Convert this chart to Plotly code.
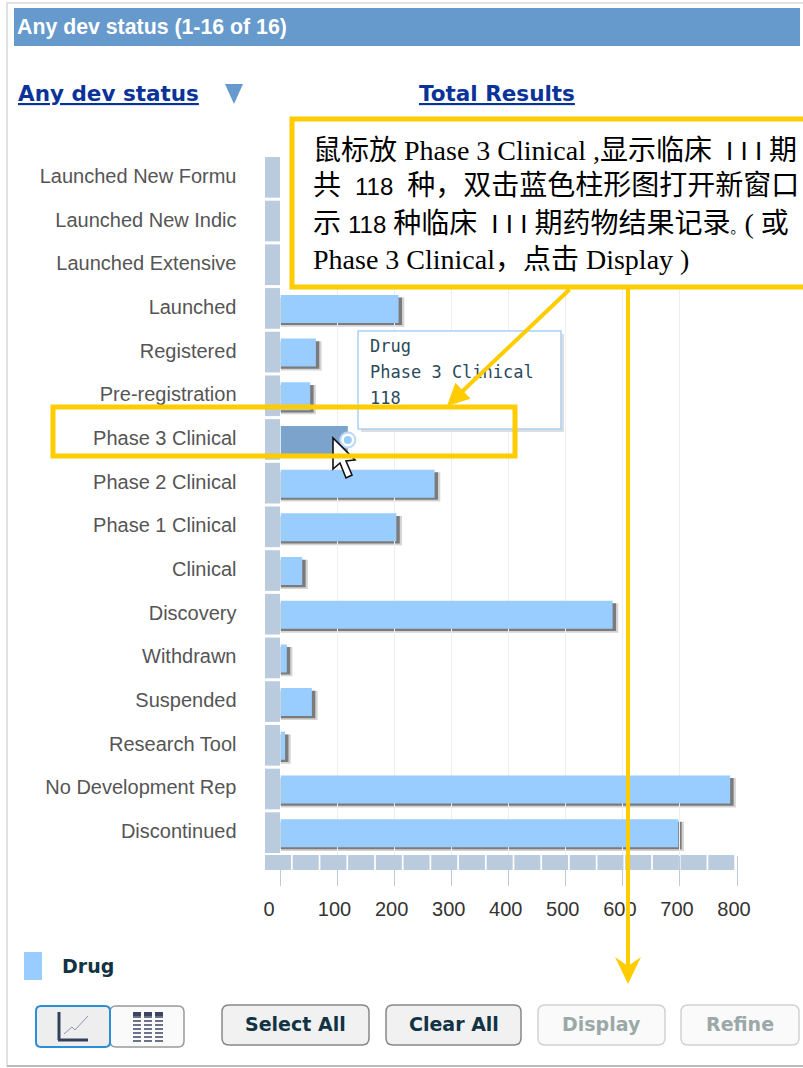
import plotly.graph_objects as go

W, H = 803, 1068
categories = ["Launched New Formu", "Launched New Indic", "Launched Extensive", "Launched", "Registered",
              "Pre-registration", "Phase 3 Clinical", "Phase 2 Clinical", "Phase 1 Clinical", "Clinical",
              "Discovery", "Withdrawn", "Suspended", "Research Tool", "No Development Rep", "Discontinued"]
drug_values = [0, 0, 0, 207, 62, 52, 118, 270, 203, 38, 582, 11, 55, 8, 788, 697]
tick_values = [0, 100, 200, 300, 400, 500, 600, 700, 800]
tick_labels = ["0\u00a0\u00a0\u00a0", "100", "200", "300", "400", "500", "600", "700", "800"]
highlight = "Phase 3 Clinical"
ROMAN = '<span style="font-family:Liberation Sans;font-size:26px">I I I</span>'
N118 = '<span style="font-family:Liberation Sans;font-size:24px">118</span>'
STOP = '<span style="font-size:14px">。</span>'
NB = "\u00a0"
callout_lines = ["鼠标放 Phase 3 Clinical ,显示临床" + NB * 2 + ROMAN + NB + "期",
                 "共" + NB * 2 + N118 + NB * 2 + "种，双击蓝色柱形图打开新窗口",
                 "示" + NB + N118 + NB + "种临床" + NB * 2 + ROMAN + NB + "期药物结果记录" + STOP + "(" + NB + "或",
                 "Phase 3 Clinical，点击 Display )"]
tooltip_lines = ["Drug", "Phase 3 Clinical", "118"]
buttons = [("Select All", 222, 369, True), ("Clear All", 386, 521, True),
           ("Display", 538, 665, False), ("Refine", 681, 799, False)]

PLOT_L, PLOT_R, PLOT_T, PLOT_B = 280.5, 737, 156, 855
BAR = "#99ccff"; HI = "#7ba3cc"; BLOCK = "#b9cbdd"; YEL = "#ffcc00"; HEAD = "#6699cc"


def px(x): return x / W
def py(y): return 1 - y / H


def rect(x0, y0, x1, y1, fill=None, line=None, lw=1, layer="above"):
    return dict(type="rect", xref="paper", yref="paper", x0=px(x0), x1=px(x1), y0=py(y0), y1=py(y1),
                fillcolor=fill or "rgba(0,0,0,0)", line=dict(color=line or "rgba(0,0,0,0)", width=lw if line else 0),
                layer=layer)


def seg(x0, y0, x1, y1, color, lw=1, dash=None, layer="above"):
    return dict(type="line", xref="paper", yref="paper", x0=px(x0), x1=px(x1), y0=py(y0), y1=py(y1),
                line=dict(color=color, width=lw, dash=dash or "solid"), layer=layer)


def poly(pts, fill=None, line=None, lw=1, close=True):
    d = "M " + " L ".join(f"{px(x):.5f},{py(y):.5f}" for x, y in pts) + (" Z" if close else "")
    return dict(type="path", xref="paper", yref="paper", path=d, fillcolor=fill or "rgba(0,0,0,0)",
                line=dict(color=line or "rgba(0,0,0,0)", width=lw if line else 0), layer="above")


def rrect(x0, y0, x1, y1, fill, line, lw=1.5, r=6):
    f = lambda x, y: f"{px(x):.5f},{py(y):.5f}"
    d = (f"M {f(x0+r,y0)} L {f(x1-r,y0)} Q {f(x1,y0)} {f(x1,y0+r)} L {f(x1,y1-r)} Q {f(x1,y1)} {f(x1-r,y1)} "
         f"L {f(x0+r,y1)} Q {f(x0,y1)} {f(x0,y1-r)} L {f(x0,y0+r)} Q {f(x0,y0)} {f(x0+r,y0)} Z")
    return dict(type="path", xref="paper", yref="paper", path=d, fillcolor=fill,
                line=dict(color=line, width=lw), layer="above")


def text(x, y, s, size, color, family, anchor="left", **fontkw):
    xx = x - 2 if anchor == "left" else x
    return dict(xref="paper", yref="paper", x=px(xx), y=py(y), text=s, showarrow=False, xanchor=anchor,
                yanchor="middle", align="left", font=dict(size=size, color=color, family=family, **fontkw))


fig = go.Figure()
fig.add_trace(go.Bar(y=categories, x=drug_values, orientation="h", width=0.64,
                     marker=dict(color=[HI if c == highlight else BAR for c in categories], line_width=0),
                     name="Drug", showlegend=False))
hi_val = drug_values[categories.index(highlight)]
fig.add_trace(go.Scatter(y=[highlight], x=[hi_val], mode="markers", showlegend=False,
                         marker=dict(size=15, color="#ffffff", line=dict(color="#bcd9f5", width=2))))
fig.add_trace(go.Scatter(y=[highlight], x=[hi_val], mode="markers", showlegend=False,
                         marker=dict(size=8, color=BAR, line_width=0)))

shapes = []
shapes.append(rect(7, 3, 830, 1066, "#ffffff", "#d8d8d8", 1.5, "below"))
shapes.append(seg(7, 1066, 803, 1066, "#bbbbbb", 2, layer="below"))
shapes.append(rect(14, 8, 800, 46, HEAD, None, layer="below"))
for i, v in enumerate(drug_values):
    if v > 0 and categories[i] != highlight:
        shapes.append(dict(type="rect", xref="x", yref="y", x0=0, x1=v + 10, y0=i - 0.26, y1=i + 0.41,
                           fillcolor="rgba(60,60,60,0.22)", line_width=0, layer="below"))
        shapes.append(dict(type="rect", xref="x", yref="y", x0=0, x1=v + 6, y0=i - 0.26, y1=i + 0.37,
                           fillcolor="rgba(50,50,50,0.55)", line_width=0, layer="below"))
band = (PLOT_B - PLOT_T) / len(categories)
for i in range(len(categories)):
    shapes.append(rect(265, PLOT_T + i * band + 1, 280, PLOT_T + (i + 1) * band - 2, BLOCK))
for i in range(17):
    x0 = 265 + i * (471 / 17)
    shapes.append(rect(x0, 855, x0 + 26, 870, BLOCK))
shapes.append(poly([(225, 84), (243, 84), (234, 104)], HEAD))
shapes.append(rect(361, 334, 564, 432, "#dddddd"))
shapes.append(rect(358, 331, 561, 429, "#ffffff", "#a9d0f5", 1.5))
shapes.append(poly([(333, 438), (333, 469), (340, 463), (346, 478), (352, 475), (346, 461), (355, 460)],
                   "#ffffff", "#111111", 1.6))
shapes.append(rect(292, 119, 830, 287, "#ffffff", YEL, 5))
shapes.append(rect(53, 407, 515, 456, None, YEL, 5))
shapes.append(seg(628, 288, 628, 970, YEL, 4))
shapes.append(poly([(615, 957), (628, 966), (641, 957), (628, 984)], YEL))
shapes.append(rect(24, 952, 42, 980, BAR))
shapes.append(rrect(110, 1006, 184, 1047, "#fafafa", "#999999", 1.5, 6))
shapes.append(rrect(36, 1006, 110, 1047, "#eeeeee", "#2b8fd8", 2, 5))
shapes.append(seg(59, 1012, 59, 1040, "#33415c", 3))
shapes.append(seg(58, 1040, 88, 1040, "#33415c", 3))
shapes.append(poly([(64, 1034), (72, 1027), (75, 1030), (88, 1016)], None, "#8c96a8", 1, close=False))
for xc in (137, 148, 159):
    shapes.append(seg(xc, 1012, xc, 1043, "#6a7388", 8, "2px,2px"))
    shapes.append(seg(xc, 1012, xc, 1016, "#3b4560", 8))
for label, x0, x1, active in buttons:
    shapes.append(rrect(x0, 1005, x1, 1045, "#f1f1f1" if active else "#fafafa",
                        "#888888" if active else "#d2d2d2", 1.5, 7))

anns = [text(17, 27, "<b>Any dev status (1-16 of 16)</b>", 21.3, "#ffffff", "Liberation Sans"),
        text(18, 93, "<b>Any dev status</b>", 21.5, "#0a3399", "DejaVu Sans", lineposition="under"),
        text(419, 93, "<b>Total Results</b>", 21.5, "#0a3399", "DejaVu Sans", lineposition="under"),
        text(62, 966, "<b>Drug</b>", 19, "#113344", "DejaVu Sans")]
for label, x0, x1, active in buttons:
    anns.append(text((x0 + x1) / 2, 1024, f"<b>{label}</b>", 19, "#113344" if active else "#9aa8a8",
                     "DejaVu Sans", anchor="center"))
for s, y in zip(tooltip_lines, (346, 372, 398)):
    anns.append(text(370, y, s, 17, "#2a4a5a", "DejaVu Sans Mono"))
anns.append(dict(xref="paper", yref="paper", x=px(447), y=py(406), axref="pixel", ayref="pixel",
                 ax=124, ay=-118, text="", showarrow=True, arrowcolor=YEL, arrowwidth=4, arrowhead=2,
                 arrowsize=1.1))
for s, y in zip(callout_lines, (150, 186, 223, 259)):
    anns.append(text(313, y, s, 28, "#000000", "Liberation Serif, Noto Sans CJK SC"))

fig.update_layout(
    width=W, height=H, autosize=False, margin=dict(l=0, r=0, t=0, b=0, pad=0, autoexpand=False),
    paper_bgcolor="#ffffff", plot_bgcolor="rgba(0,0,0,0)", bargap=0.36, showlegend=False, hovermode=False,
    shapes=shapes, annotations=anns,
    xaxis=dict(domain=[px(PLOT_L), px(PLOT_R)], range=[0, 800], tickmode="array", tickvals=tick_values,
               ticktext=tick_labels, ticks="outside", ticklen=30, tickcolor="#b9cbdd", tickwidth=1,
               tickfont=dict(size=20, color="#333333", family="Liberation Sans"), showgrid=True,
               gridcolor="#eeeeee", gridwidth=1, zeroline=False, showline=False, ticklabelstandoff=6,
               ticklabelshift=-3),
    yaxis=dict(domain=[py(PLOT_B), py(PLOT_T)], type="category", categoryorder="array", categoryarray=categories,
               range=[len(categories) - 0.5, -0.5], ticks="", showgrid=False, zeroline=False, showline=False,
               tickfont=dict(size=20, color="#555555", family="Liberation Sans"), ticklabelstandoff=43,
               ticklabelshift=2),
)
fig.write_html("out.html", config=dict(displayModeBar=False),
               post_script="document.body.style.margin='0';document.documentElement.style.overflow='hidden';")
